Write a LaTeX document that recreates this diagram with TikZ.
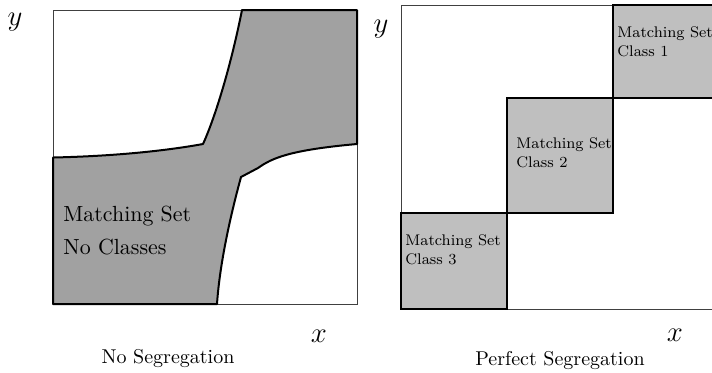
\documentclass[tikz,border=0pt]{standalone}
\usetikzlibrary{positioning}
\tikzset{
  frame/.style    = {draw=black!75, line width=0.4pt},
  region/.style   = {draw, line width=1pt, fill=black!37, line join=round},
  classbox/.style = {draw, line width=1pt, fill=black!25},
  settxt/.style   = {anchor=west, align=left, inner sep=0pt,
                     font=\fontsize{7.7}{9.6}\selectfont},
  axlbl/.style    = {font=\Large},
  caption/.style  = {anchor=base, inner sep=0pt}
}

\begin{document}
\begin{tikzpicture}[x=0.5pt, y=-0.5pt]
  \useasboundingbox (0,0) rectangle (712,372);
  \clip (0,0) rectangle (712,372);

  % ── No segregation (left) ─────────────────────────────────────────────────
  \draw[frame] (53,10) rectangle (357,304);
  \draw[region] (53,157.5) .. controls (120,156) and (170,150) .. (203,144)
      .. controls (214,120) and (230,70) .. (242,10)
      -- (357,10) -- (357,144)
      .. controls (290,150) and (272,158) .. (258,168) -- (241,177)
      .. controls (232,210) and (220,260) .. (217,304)
      -- (53,304) -- cycle;
  \node[settxt, font=\fontsize{10.95}{16.5}\selectfont] (nocls) at (63,230.5)
        {Matching Set\\No Classes};
  \node[axlbl]   (y1)   at (15,22)   {$y$};
  \node[axlbl]   (x1)   at (319,336) {$x$};
  \node[caption] (cap1) at (168,363) {No Segregation};

  % ── Perfect segregation (right) ───────────────────────────────────────────
  \draw[frame] (720,5) -- (401,5) -- (401,309) -- (720,309);
  \draw[classbox] (401,213) rectangle (507,309);
  \draw[classbox] (507,98)  rectangle (613,213);
  \draw[classbox] (613,5)   rectangle (720,98);
  \node[settxt] (cls3) at (405,249.7) {Matching Set\\Class 3};
  \node[settxt] (cls2) at (516,153)   {Matching Set\\Class 2};
  \node[settxt] (cls1) at (617,42)    {Matching Set\\Class 1};
  \node[axlbl]   (y2)   at (381,29)  {$y$};
  \node[axlbl]   (x2)   at (675,335) {$x$};
  \node[caption] (cap2) at (560,365) {Perfect Segregation};

\end{tikzpicture}
\end{document}
